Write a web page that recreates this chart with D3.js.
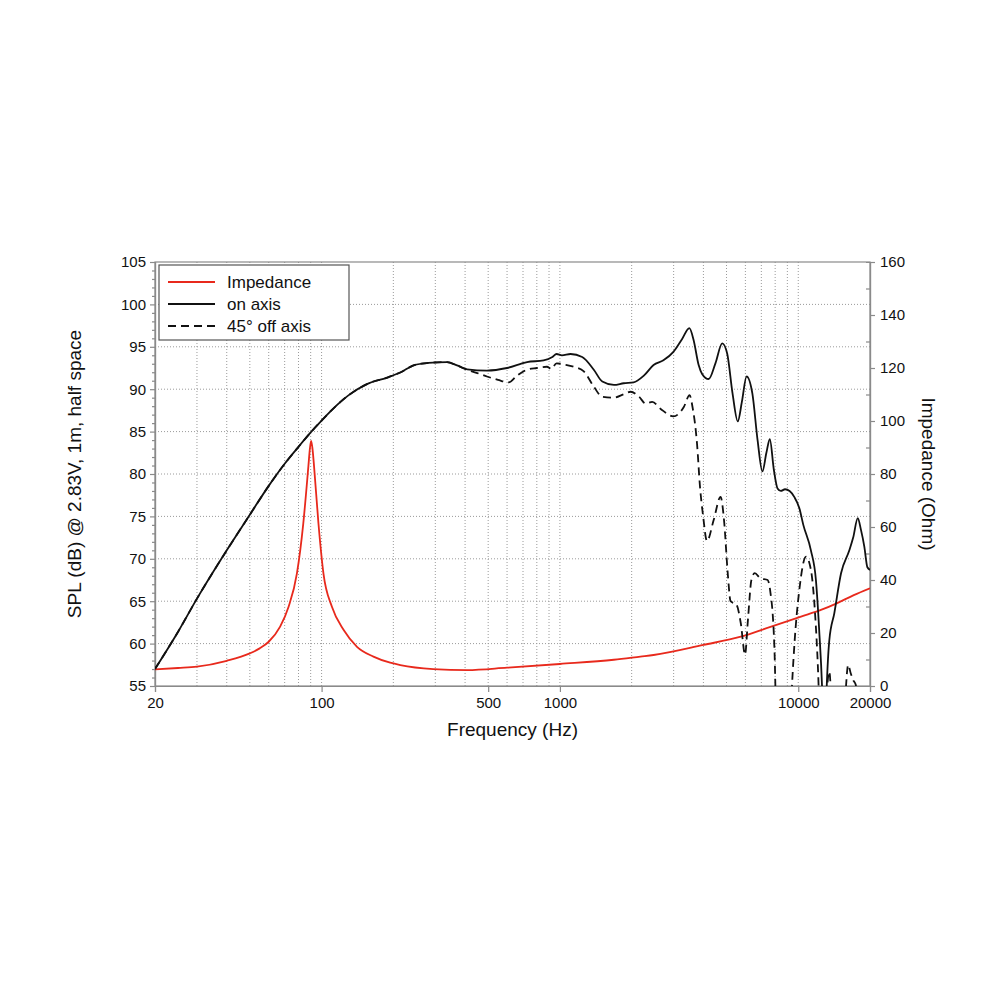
<!DOCTYPE html>
<html>
<head>
<meta charset="utf-8">
<script src="https://cdn.jsdelivr.net/npm/d3@7"></script>
<style>
  body { margin: 0; background: #fff; }
  text { font-family: "Liberation Sans", Arial, Helvetica, sans-serif; fill: #111; }
</style>
</head>
<body>
<div id="chart"></div>
<script>
// frequency response + impedance data
var onAxisFreq = [20, 25, 30, 40, 50, 60, 70, 80, 90, 100, 110, 120, 130, 155, 190, 215, 245, 280, 336, 370, 408, 494, 600, 728, 854, 930, 968, 1020, 1108, 1240, 1387, 1506, 1684, 1852, 2038, 2250, 2471, 2718, 2993, 3252, 3492, 3638, 3820, 3950, 4209, 4492, 4796, 5032, 5300, 5576, 5800, 6070, 6418, 6750, 7072, 7350, 7598, 7900, 8186, 8450, 8800, 9200, 9620, 10100, 10500, 11300, 11860, 12240, 12650, 12850, 13090, 13500, 14170, 15120, 16380, 17000, 17770, 18300, 18940, 19500, 20000];
var onAxisSpl = [57.0, 61.4, 65.3, 71.0, 75.2, 78.6, 81.2, 83.2, 84.9, 86.3, 87.5, 88.5, 89.3, 90.6, 91.4, 92.0, 92.85, 93.1, 93.2, 92.8, 92.35, 92.2, 92.5, 93.2, 93.4, 93.8, 94.15, 94.0, 94.15, 93.8, 92.3, 90.9, 90.5, 90.7, 90.8, 91.6, 92.85, 93.4, 94.4, 95.9, 97.2, 95.8, 92.85, 91.8, 91.2, 93.05, 95.4, 94.2, 89.5, 86.2, 88.5, 91.5, 89.5, 84.0, 80.3, 82.5, 84.1, 80.5, 78.3, 78.0, 78.2, 78.0, 77.3, 76.0, 74.0, 71.0, 67.5, 61.6, 53, 45, 53, 60.4, 63.6, 68.3, 71.0, 72.5, 74.8, 73.5, 71.4, 69.0, 68.7];

var offAxisFreq = [20, 25, 30, 40, 50, 60, 70, 80, 90, 100, 110, 120, 130, 155, 190, 215, 245, 280, 336, 370, 408, 450, 494, 550, 610, 660, 728, 800, 882, 920, 968, 1050, 1144, 1260, 1387, 1506, 1684, 1850, 1980, 2150, 2290, 2440, 2640, 2993, 3310, 3500, 3600, 3760, 3870, 3990, 4140, 4420, 4720, 4880, 5060, 5200, 5500, 5740, 5980, 6150, 6360, 6570, 6940, 7440, 7620, 7940, 8100, 8600, 9000, 9340, 9620, 10100, 10780, 11300, 11760, 12100, 12350, 12800, 13300, 13500, 13800, 14500, 15600, 16200, 16600, 17000, 17400, 17800, 18500, 20000];
var offAxisSpl = [57.0, 61.4, 65.3, 71.0, 75.2, 78.6, 81.2, 83.2, 84.9, 86.3, 87.5, 88.5, 89.3, 90.6, 91.4, 92.0, 92.85, 93.1, 93.2, 92.8, 92.3, 91.9, 91.5, 91.1, 90.8, 91.6, 92.3, 92.5, 92.65, 92.4, 93.05, 92.9, 92.65, 92.1, 90.3, 89.1, 89.0, 89.4, 89.7, 89.1, 88.3, 88.5, 87.7, 86.8, 87.9, 89.3, 87.9, 83.6, 78.5, 75.0, 72.1, 74.6, 77.3, 74.6, 68.3, 65.0, 64.6, 62.4, 58.7, 62.8, 67.5, 68.3, 67.7, 67.5, 66.3, 59.6, 50, 40, 40, 53, 59.6, 66.3, 70.25, 68.7, 63.6, 57, 50, 45, 55.7, 56.7, 53, 45, 52, 57.5, 56.5, 55.7, 55.2, 53, 45, 40];

var impFreq = [20, 25, 30, 40, 50, 55, 60, 67, 72.7, 78.8, 83.8, 88, 89.3, 90.4, 91.6, 93, 97, 101.8, 110.5, 123.8, 140.8, 165, 194, 214, 294, 408, 600, 1000, 1684, 2176, 2471, 4000, 5740, 7700, 10270, 12450, 14500, 17100, 20000];
var impOhm = [6.3, 6.8, 7.3, 9.5, 12.3, 14.2, 16.7, 22.4, 29.9, 42.5, 61.4, 82.8, 89.5, 92.5, 89.5, 82.8, 61.4, 42.5, 29.9, 21.1, 14.8, 11.1, 8.8, 7.9, 6.4, 6.0, 6.9, 8.3, 9.9, 11.1, 11.7, 15.5, 18.6, 22.4, 26.2, 28.7, 31.2, 34.3, 36.9];

var xTickVals = [20, 100, 500, 1000, 10000, 20000];
var xGridVals = [30, 40, 50, 60, 70, 80, 90, 100, 200, 300, 400, 500, 600, 700, 800, 900, 1000, 2000, 3000, 4000, 5000, 6000, 7000, 8000, 9000, 10000];
var splTicks = [55, 60, 65, 70, 75, 80, 85, 90, 95, 100, 105];
var ohmTicks = [0, 20, 40, 60, 80, 100, 120, 140, 160];
var legendLabels = ["Impedance", "on axis", "45° off axis"];

var margin = {top: 262, left: 155},
    width = 715,
    height = 424;

var svg = d3.select("#chart")
  .append("svg")
    .attr("width", 1000)
    .attr("height", 1000);

var g = svg.append("g")
    .attr("transform", "translate(" + margin.left + "," + margin.top + ")");

var x = d3.scaleLog().domain([20, 20000]).range([0, width]);
var y = d3.scaleLinear().domain([55, 105]).range([height, 0]);
var y2 = d3.scaleLinear().domain([0, 160]).range([height, 0]);

svg.append("defs").append("clipPath").attr("id", "plotclip")
  .append("rect").attr("width", width).attr("height", height);

// grid
g.append("g").selectAll("line.vg")
  .data(xGridVals).enter().append("line")
    .attr("x1", function(d) { return x(d); }).attr("x2", function(d) { return x(d); })
    .attr("y1", 0).attr("y2", height)
    .attr("stroke", "#9a9a9a").attr("stroke-width", 1).attr("stroke-dasharray", "1,2");
g.append("g").selectAll("line.hg")
  .data(splTicks.slice(1, -1)).enter().append("line")
    .attr("x1", 0).attr("x2", width)
    .attr("y1", function(d) { return y(d); }).attr("y2", function(d) { return y(d); })
    .attr("stroke", "#9a9a9a").attr("stroke-width", 1).attr("stroke-dasharray", "1,2");

// frame
g.append("rect").attr("width", width).attr("height", height)
  .attr("fill", "none").attr("stroke", "#8a8a8a").attr("stroke-width", 1.2);

// axes
var axisL = g.append("g")
  .call(d3.axisLeft(y).tickValues(splTicks).tickSize(5).tickPadding(4));
var axisLminor = g.append("g")
  .call(d3.axisLeft(y).tickValues(d3.range(55, 106, 1).filter(function(v) { return v % 5 != 0; })).tickSize(3).tickFormat(""));
var axisR = g.append("g").attr("transform", "translate(" + width + ",0)")
  .call(d3.axisRight(y2).tickValues(ohmTicks).tickSize(5).tickPadding(5));
var axisRminor = g.append("g").attr("transform", "translate(" + width + ",0)")
  .call(d3.axisLeft(y2).tickValues(d3.range(10, 160, 20)).tickSize(4).tickFormat(""));
var axisB = g.append("g").attr("transform", "translate(0," + height + ")")
  .call(d3.axisBottom(x).tickValues(xTickVals).tickFormat(d3.format("d")).tickSize(6).tickPadding(5));

[axisL, axisLminor, axisR, axisRminor, axisB].forEach(function(a) {
  a.select(".domain").attr("stroke", "#8a8a8a").attr("stroke-width", 1.2);
  a.selectAll(".tick line").attr("stroke", "#8a8a8a").attr("stroke-width", 1.2);
  a.selectAll(".tick text").style("font-size", "15px").attr("fill", "#111");
});

// curves
var lineSpl = d3.line()
  .x(function(d) { return x(d[0]); })
  .y(function(d) { return y(d[1]); })
  .curve(d3.curveMonotoneX);
var lineImp = d3.line()
  .x(function(d) { return x(d[0]); })
  .y(function(d) { return y2(d[1]); })
  .curve(d3.curveMonotoneX);

var plot = g.append("g").attr("clip-path", "url(#plotclip)");

plot.append("path")
  .datum(d3.zip(impFreq, impOhm))
  .attr("d", lineImp)
  .attr("fill", "none").attr("stroke", "#e8291c").attr("stroke-width", 1.8);

plot.append("path")
  .datum(d3.zip(offAxisFreq, offAxisSpl))
  .attr("d", lineSpl)
  .attr("fill", "none").attr("stroke", "#111").attr("stroke-width", 1.8)
  .attr("stroke-dasharray", "8,5");

plot.append("path")
  .datum(d3.zip(onAxisFreq, onAxisSpl))
  .attr("d", lineSpl)
  .attr("fill", "none").attr("stroke", "#111").attr("stroke-width", 1.8);

// legend
var leg = g.append("g").attr("transform", "translate(4,3)");
leg.append("rect").attr("width", 190).attr("height", 75)
  .attr("fill", "#fff").attr("stroke", "#555").attr("stroke-width", 1.2);
var legStyles = [
  {color: "#e8291c", dash: null},
  {color: "#111", dash: null},
  {color: "#111", dash: "8,5"}
];
legendLabels.forEach(function(lbl, i) {
  var ly = 17 + i * 22;
  leg.append("line")
    .attr("x1", 9).attr("x2", 56).attr("y1", ly).attr("y2", ly)
    .attr("stroke", legStyles[i].color).attr("stroke-width", 1.8)
    .attr("stroke-dasharray", legStyles[i].dash);
  leg.append("text")
    .attr("x", 68).attr("y", ly + 6)
    .style("font-size", "17px")
    .text(lbl);
});

// axis titles
svg.append("text")
  .attr("x", margin.left + width / 2).attr("y", 736)
  .attr("text-anchor", "middle")
  .style("font-size", "19px")
  .text("Frequency (Hz)");

svg.append("text")
  .attr("transform", "translate(81," + (margin.top + height / 2) + ") rotate(-90)")
  .attr("text-anchor", "middle")
  .style("font-size", "19px")
  .text("SPL (dB) @ 2.83V, 1m, half space");

svg.append("text")
  .attr("transform", "translate(922," + (margin.top + height / 2) + ") rotate(90)")
  .attr("text-anchor", "middle")
  .style("font-size", "19px")
  .text("Impedance (Ohm)");
</script>
</body>
</html>
